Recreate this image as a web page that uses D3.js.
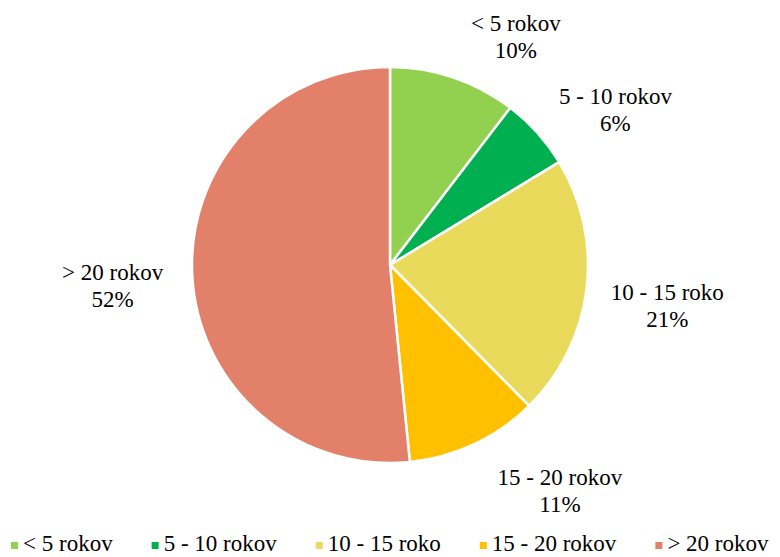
<!DOCTYPE html>
<html>
<head>
<meta charset="utf-8">
<script src="https://cdn.jsdelivr.net/npm/d3@7"></script>
<style>
  body { margin: 0; background: #fff; }
  svg text { font-family: "Liberation Serif", "Times New Roman", serif; fill: #000; }
</style>
</head>
<body>
<script>
// data
const categories = ["< 5 rokov", "5 - 10 rokov", "10 - 15 roko", "15 - 20 rokov", "> 20 rokov"];
const values = [10.4, 5.9, 21.3, 10.8, 51.6];
const colors = ["#92D050", "#00B050", "#E9DA5C", "#FFC000", "#E2806A"];

const dims = { width: 780, height: 557 };
const cent = { x: 390, y: 265 };
const radius = 198;
const fsize = 23;

const svg = d3.select("body").append("svg")
    .attr("width", dims.width)
    .attr("height", dims.height);

const pie = d3.pie().sort(null).value(d => d.v);
const arcs = pie(categories.map((c, i) => ({ c: c, v: values[i], i: i })));
const arc = d3.arc().innerRadius(0).outerRadius(radius);

const g = svg.append("g").attr("transform", `translate(${cent.x},${cent.y})`);

g.selectAll("path").data(arcs).enter()
    .append("path")
    .attr("d", arc)
    .attr("fill", d => colors[d.data.i])
    .attr("stroke", "#fff")
    .attr("stroke-width", 2.5);

// labels outside the pie (excel nudges some of them a bit)
const labelR = [262, 275, 280, 281, 278];
const nudge = [10, 7, 1, -12, -1]; // degrees
const total = d3.sum(values);

const labels = g.selectAll("g.lbl").data(arcs).enter()
    .append("g").attr("class", "lbl")
    .attr("transform", d => {
        const a = (d.startAngle + d.endAngle) / 2 + nudge[d.data.i] * Math.PI / 180;
        const r = labelR[d.data.i];
        return `translate(${r * Math.sin(a)},${-r * Math.cos(a)})`;
    });

labels.append("text")
    .attr("text-anchor", "middle")
    .attr("y", -4)
    .attr("font-size", fsize)
    .text(d => d.data.c);

labels.append("text")
    .attr("text-anchor", "middle")
    .attr("y", 23)
    .attr("font-size", fsize)
    .text(d => Math.round(d.data.v / total * 100) + "%");

// legend
const legend = svg.append("g").attr("transform", "translate(11,551)");
let lx = 0;
categories.forEach((c, i) => {
    const item = legend.append("g").attr("transform", `translate(${lx},0)`);
    item.append("rect")
        .attr("x", 0).attr("y", -9)
        .attr("width", 7).attr("height", 7)
        .attr("fill", colors[i]);
    const t = item.append("text")
        .attr("x", 12)
        .attr("font-size", fsize)
        .text(c);
    lx += 12 + t.node().getComputedTextLength() + 39;
});
</script>
</body>
</html>
